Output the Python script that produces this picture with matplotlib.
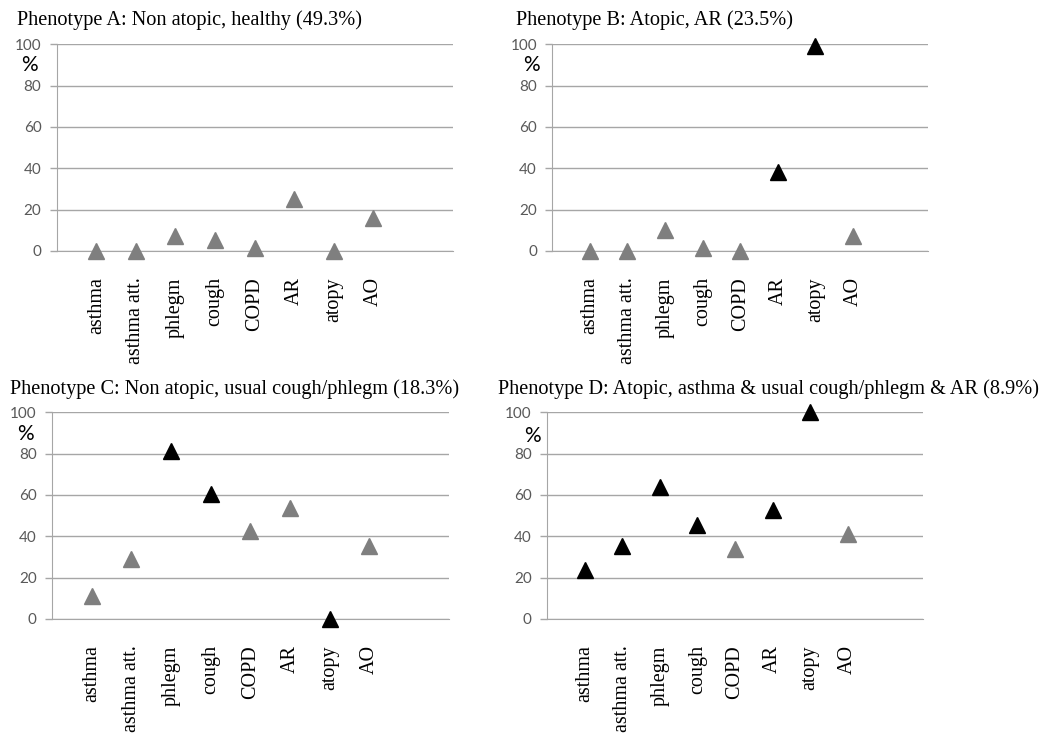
import matplotlib
matplotlib.use("Agg")
import matplotlib.pyplot as plt

# Data (percent of each phenotype)
categories = ["asthma", "asthma att.", "phlegm", "cough", "COPD", "AR", "atopy", "AO"]

titles = [
    "Phenotype A: Non atopic, healthy (49.3%)",
    "Phenotype B: Atopic, AR (23.5%)",
    "Phenotype C: Non atopic, usual cough/phlegm (18.3%)",
    "Phenotype D: Atopic, asthma & usual cough/phlegm & AR (8.9%)",
]

values_a = [0, 0, 7, 5.5, 1.5, 25, 0, 16]
values_b = [0, 0, 10, 1.5, 0, 38, 99, 7]
values_c = [11, 29, 81, 60.5, 42.5, 53.5, 0, 35.5]
values_d = [23.5, 35.5, 64, 45.5, 34, 52.5, 100, 41]

# which categories define the phenotype (drawn black)
key_a = [False, False, False, False, False, False, False, False]
key_b = [False, False, False, False, False, True, True, False]
key_c = [False, False, True, True, False, False, True, False]
key_d = [True, True, True, True, False, True, True, False]

yticks = [0, 20, 40, 60, 80, 100]

GRID_CLR = "#a6a6a6"
GREY = "#7f7f7f"
TICK_CLR = "#595959"
SERIF = "Liberation Serif"

fig = plt.figure(figsize=(10.5, 7.36), dpi=100)

panels = [
    # axes rect, title pos, % pos
    ([0.054, 0.659, 0.377, 0.281], (0.016, 0.966), (0.020, 0.912)),
    ([0.526, 0.659, 0.358, 0.281], (0.491, 0.966), (0.498, 0.912)),
    ([0.0495, 0.159, 0.378, 0.281], (0.010, 0.464), (0.016, 0.411)),
    ([0.521, 0.159, 0.358, 0.281], (0.474, 0.464), (0.499, 0.408)),
]
all_values = [values_a, values_b, values_c, values_d]
all_keys = [key_a, key_b, key_c, key_d]

xs = list(range(1, len(categories) + 1))

for (rect, tpos, ppos), title, vals, keys in zip(panels, titles, all_values, all_keys):
    ax = fig.add_axes(rect)
    grey_x = [x for x, k in zip(xs, keys) if not k]
    grey_y = [v for v, k in zip(vals, keys) if not k]
    blk_x = [x for x, k in zip(xs, keys) if k]
    blk_y = [v for v, k in zip(vals, keys) if k]
    ax.plot(grey_x, grey_y, linestyle="none", marker="^", markersize=11,
            color=GREY, markeredgecolor=GREY, clip_on=False, zorder=3)
    ax.plot(blk_x, blk_y, linestyle="none", marker="^", markersize=12,
            color="black", markeredgecolor="black", clip_on=False, zorder=4)

    ax.set_xlim(0, 10)
    ax.set_ylim(0, 100)
    ax.set_yticks(yticks)
    ax.set_xticks(xs)
    ax.set_xticklabels(categories, rotation=90, fontsize=14.5, family=SERIF,
                       va="top", ha="center")
    ax.tick_params(axis="x", length=0, pad=19, colors="black")
    ax.tick_params(axis="y", length=5, width=1, color=GRID_CLR, pad=6,
                   labelsize=11, labelcolor=TICK_CLR)
    for lab in ax.get_yticklabels():
        lab.set_family("Lato")

    ax.yaxis.grid(True, color=GRID_CLR, linewidth=1)
    ax.set_axisbelow(True)
    for side in ["top", "right"]:
        ax.spines[side].set_visible(False)
    ax.spines["left"].set_color(GRID_CLR)
    ax.spines["bottom"].set_color(GRID_CLR)

    fig.text(tpos[0], tpos[1], title, fontsize=14.6, family=SERIF,
             ha="left", va="baseline")
    fig.text(ppos[0], ppos[1], "%", fontsize=15, family="Lato",
             ha="left", va="center")

fig.savefig("out.png", dpi=100, facecolor="white")
